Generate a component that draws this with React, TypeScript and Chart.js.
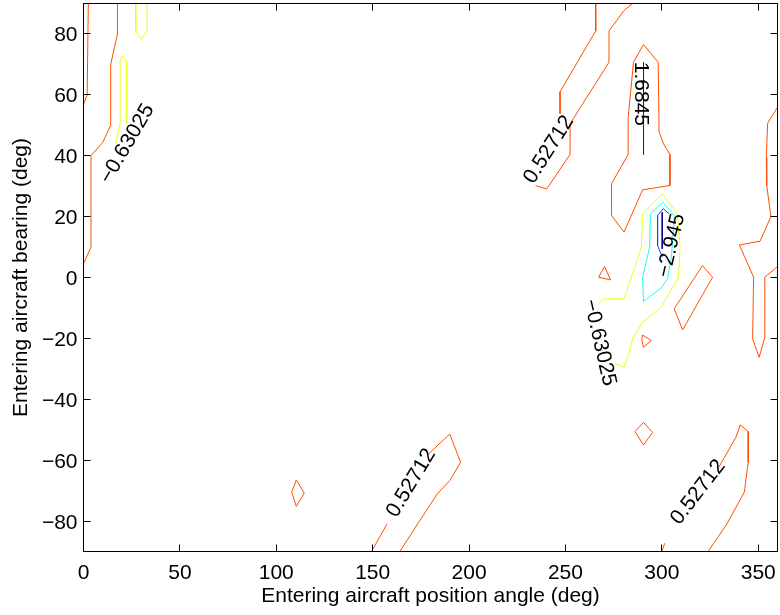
import { useEffect, useRef } from "react";
import { Chart, registerables } from "chart.js";

Chart.register(...registerables);

// ---- axis ticks ----
const xTicks = [0, 50, 100, 150, 200, 250, 300, 350];
const yTicks = [-80, -60, -40, -20, 0, 20, 40, 60, 80];
const xTitle = "Entering aircraft position angle (deg)";
const yTitle = "Entering aircraft bearing (deg)";

// ---- contour levels (jet colours) ----
const levelValues = [-4.1026, -2.945, -1.7876, -0.63025, 0.52712, 1.6845];
const levelColors = ["rgb(0,0,143)", "rgb(0,77,255)", "rgb(26,255,230)", "rgb(230,255,26)", "rgb(255,77,0)", "rgb(128,0,0)"];

// ---- contour paths, [angle, bearing] ----
// level 1.6845
const darkRedLine = [[290.5, 70.7], [290.5, 40.4]];
// level -4.1026
const darkBlueLine = [[300.2, 21.4], [300.2, 9.4]];
// level -2.945
const blueArc = [[303.8, 20.9], [300.7, 22.6], [297.8, 20.4], [297.8, 10.5], [300.3, 6.7]];
// level -1.7876
const cyanLoop = [[300.5, 24.7], [306.5, 20.4], [305, 7], [303, -0.4], [299.5, -3.5], [290.5, -7.9], [290, 0], [293.7, 10], [294.1, 20.9], [300.5, 24.7]];
// level -0.63025
const yellowTop = [[27.1, 90], [27.1, 81], [29.9, 78.2], [33, 81], [33, 90]];
const yellowLeft = [[16.7, 43.9], [19, 50.5], [19, 71.3], [20.2, 72.9], [22.4, 70.9], [22.4, 50.5]];
const yellowCluster = [[267, -8.7], [270, -7], [280.4, -7], [289.4, 10], [290, 20.9], [300.3, 27.5], [308.1, 20.9], [309.5, 10], [308.6, 0], [299.5, -9.8], [290, -14.7], [284.8, -20.2], [283, -25.1], [280.4, -29.5], [276.1, -28.4]];
// level 0.52712
const orangeEdgeTopLeft = [[2.5, 90], [1.9, 60], [0, 56.8]];
const orangeLeft = [[0, 4.5], [3.9, 10], [3.9, 40], [10, 44.4], [14.1, 50], [14.1, 70], [17.6, 80], [17.6, 90]];
const orangeTopMidUpper = [[265.7, 90], [265.7, 81], [247.2, 61], [247.2, 53.8]];
const orangeTopMidLower = [[234.5, 30.2], [240.3, 29.1], [252.4, 40.4], [252.4, 50.5], [272.6, 70.7], [272.6, 81], [280.4, 87.7], [284.8, 90]];
const orangeLoop = [[290.5, 76.5], [298.1, 70.7], [298.6, 47.7], [300.9, 43.9], [304.2, 40.4], [304.2, 30.2], [290, 28.8], [280.4, 14.9], [273.9, 20.4], [273.9, 30.8], [282.5, 40.4], [282.5, 52.1], [285.3, 70.7], [290.5, 76.5]];
const orangeRight = [[360, 55.9], [354.9, 50.7], [354.2, 39.5], [354.4, 30.2], [356.6, 20], [350.9, 11.9], [340.2, 10.7], [347.6, 0.1], [347.1, -20.2], [350.5, -26.2], [353.2, -20.2], [353.4, 0.1], [360, 3.6]];
const orangeTriangle = [[270.3, 3.6], [273.4, -0.8], [267.2, 0.1], [270.3, 3.6]];
const orangeQuad = [[321.1, 3.9], [326.3, 0.1], [310.8, -17.2], [306.4, -10.3], [321.1, 3.9]];
const orangeSmallTri = [[290, -18.9], [294.6, -20.7], [290.4, -22.9], [289.6, -20.2], [290, -18.9]];
const orangeDiamondRight = [[290.5, -47.6], [295.2, -50.9], [290.5, -55], [286.1, -50.6], [290.5, -47.6]];
const orangeDiamondLeft = [[110.4, -66.5], [114.5, -70.8], [110.4, -75.2], [108, -70.5], [110.4, -66.5]];
const orangeBottomMidA = [[149.4, -90], [157.5, -80.9]];
const orangeBottomMidB = [[179.1, -57.9], [190, -51.4], [195.6, -60.7], [190, -66.7], [183.5, -71.1], [173.9, -80.4], [164.1, -90]];
const orangeBottomRightA = [[300, -90], [301.5, -87.3]];
const orangeBottomRightB = [[329, -62.9], [338.4, -52.5], [340.7, -48.4], [344.8, -50.6], [344.8, -60.7], [342.8, -70.5], [333.8, -80.9], [324, -90]];

// which level each path belongs to (index into levelValues)
const contourPaths: [number, number[][]][] = [
  [5, darkRedLine],
  [0, darkBlueLine],
  [1, blueArc],
  [2, cyanLoop],
  [3, yellowTop],
  [3, yellowLeft],
  [3, yellowCluster],
  [4, orangeEdgeTopLeft],
  [4, orangeLeft],
  [4, orangeTopMidUpper],
  [4, orangeTopMidLower],
  [4, orangeLoop],
  [4, orangeRight],
  [4, orangeTriangle],
  [4, orangeQuad],
  [4, orangeSmallTri],
  [4, orangeDiamondRight],
  [4, orangeDiamondLeft],
  [4, orangeBottomMidA],
  [4, orangeBottomMidB],
  [4, orangeBottomRightA],
  [4, orangeBottomRightB],
];

// inline contour labels: text, position (data), rotation (deg)
const labelTexts = ["−0.63025", "0.52712", "1.6845", "−2.945", "−0.63025", "0.52712", "0.52712"];
const labelX = [22.7, 241.4, 289.3, 304.9, 267.7, 170.0, 318.8];
const labelY = [43.9, 42.0, 60.3, 10.5, -21.4, -67.5, -70.5];
const labelAngle = [-59.7, -57.6, 90, -76.8, 77, -58.7, -52.3];

const FONT = '21px "Liberation Sans", Arial, Helvetica, sans-serif';

const fmt = (v: number) => (v < 0 ? "−" + Math.abs(v) : String(v));

const overlay = {
  id: "overlay",
  afterDatasetsDraw(chart: any) {
    const { ctx, chartArea: a, scales } = chart;
    const xs = scales.x;
    const ys = scales.y;
    ctx.save();
    // contour labels
    ctx.font = FONT;
    ctx.fillStyle = "#000";
    ctx.textAlign = "center";
    ctx.textBaseline = "middle";
    labelTexts.forEach((t, i) => {
      ctx.save();
      ctx.translate(xs.getPixelForValue(labelX[i]), ys.getPixelForValue(labelY[i]));
      ctx.rotate((labelAngle[i] * Math.PI) / 180);
      ctx.fillText(t, 0, 0);
      ctx.restore();
    });
    // box
    ctx.strokeStyle = "#000";
    ctx.lineWidth = 1;
    ctx.strokeRect(a.left, a.top, a.right - a.left, a.bottom - a.top);
    // ticks (inward, all four sides)
    const tl = 7;
    ctx.beginPath();
    xTicks.forEach((v) => {
      const px = Math.round(xs.getPixelForValue(v) - 0.5) + 0.5;
      ctx.moveTo(px, a.bottom);
      ctx.lineTo(px, a.bottom - tl);
      ctx.moveTo(px, a.top);
      ctx.lineTo(px, a.top + tl);
    });
    yTicks.forEach((v) => {
      const py = Math.round(ys.getPixelForValue(v) - 0.5) + 0.5;
      ctx.moveTo(a.left, py);
      ctx.lineTo(a.left + tl, py);
      ctx.moveTo(a.right, py);
      ctx.lineTo(a.right - tl, py);
    });
    ctx.stroke();
    // tick labels
    ctx.textBaseline = "alphabetic";
    ctx.textAlign = "center";
    xTicks.forEach((v) => {
      ctx.fillText(fmt(v), xs.getPixelForValue(v), a.bottom + 27);
    });
    ctx.textAlign = "right";
    yTicks.forEach((v) => {
      ctx.fillText(fmt(v), a.left - 6, ys.getPixelForValue(v) + 7.5);
    });
    // axis titles
    ctx.textAlign = "center";
    ctx.fillText(xTitle, (a.left + a.right) / 2, a.bottom + 50);
    ctx.save();
    ctx.translate(27, (a.top + a.bottom) / 2);
    ctx.rotate(-Math.PI / 2);
    ctx.fillText(yTitle, 0, 0);
    ctx.restore();
    ctx.restore();
  },
};

export default function App() {
  const ref = useRef<HTMLCanvasElement>(null);
  useEffect(() => {
    if (!ref.current) return;
    const datasets = contourPaths.map(([lvl, path]) => ({
      label: String(levelValues[lvl]),
      data: path.map(([x, y]) => ({ x, y })),
      showLine: true,
      borderColor: levelColors[lvl],
      backgroundColor: levelColors[lvl],
      borderWidth: 1,
      pointRadius: 0,
      tension: 0,
      fill: false,
    }));
    const chart = new Chart(ref.current, {
      type: "scatter",
      data: { datasets },
      options: {
        responsive: false,
        animation: false,
        events: [],
        layout: { padding: { left: 83.5, top: 3.5, right: 2.5, bottom: 63.5 } },
        plugins: { legend: { display: false }, tooltip: { enabled: false } },
        scales: {
          x: { type: "linear", min: 0, max: 360, display: false },
          y: { type: "linear", min: -90, max: 90, display: false },
        },
      },
      plugins: [overlay],
    });
    return () => chart.destroy();
  }, []);
  return (
    <div style={{ position: "absolute", left: 0, top: 0, width: 780, height: 615, background: "#fff" }}>
      <canvas ref={ref} width={780} height={615} style={{ display: "block" }} />
    </div>
  );
}
